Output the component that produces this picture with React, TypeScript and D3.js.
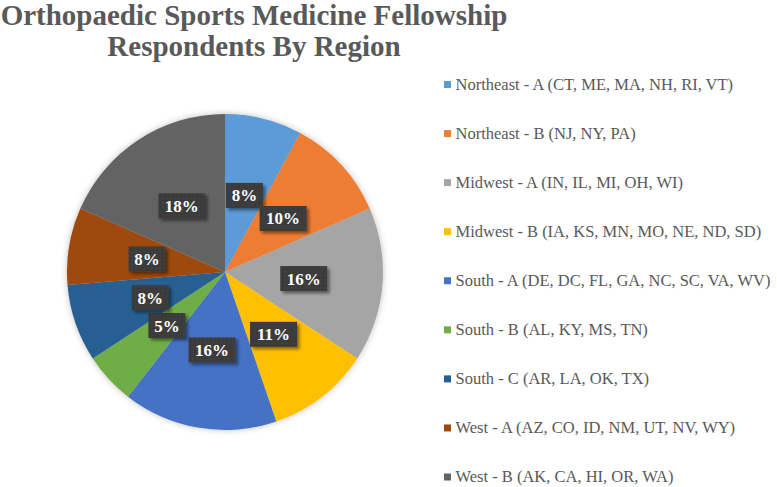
import React from 'react'
import * as d3 from 'd3'

// respondents per region (counts)
const regions = [
  'Northeast - A (CT, ME, MA, NH, RI, VT)',
  'Northeast - B (NJ, NY, PA)',
  'Midwest - A (IN, IL, MI, OH, WI)',
  'Midwest - B (IA, KS, MN, MO, NE, ND, SD)',
  'South - A (DE, DC, FL, GA, NC, SC, VA, WV)',
  'South - B (AL, KY, MS, TN)',
  'South - C (AR, LA, OK, TX)',
  'West - A (AZ, CO, ID, NM, UT, NV, WY)',
  'West - B (AK, CA, HI, OR, WA)',
]
const counts = [3, 4, 6, 4, 6, 2, 3, 3, 7]
const pctLabels = ['8%', '10%', '16%', '11%', '16%', '5%', '8%', '8%', '18%']
const colors = ['#5B9BD5', '#ED7D31', '#A5A5A5', '#FFC000', '#4472C4', '#70AD47', '#255E91', '#9E480E', '#636363']
const titleLines = ['Orthopaedic Sports Medicine Fellowship', 'Respondents By Region']

const W = 777
const H = 487
const cx = 225
const cy = 272
const R = 158
const serif = 'Liberation Serif, Times New Roman, serif'

export default function App() {
  const pie = d3.pie<number>().sort(null).value(d => d)
  const arcs = pie(counts)
  const arc = d3.arc<d3.PieArcDatum<number>>().innerRadius(0).outerRadius(R)

  const color = d3.scaleOrdinal<string, string>().domain(regions).range(colors)
  const legendY = d3.scalePoint<string>().domain(regions).range([84.5, 477])

  return (
    <svg width={W} height={H} style={{ position: 'absolute', left: 0, top: 0, background: '#fff' }}>
      <defs>
        <filter id="pieShadow" x="-20%" y="-20%" width="140%" height="140%">
          <feDropShadow dx="0" dy="0" stdDeviation="3" floodColor="#000" floodOpacity="0.25" />
        </filter>
        <filter id="boxShadow" x="-30%" y="-30%" width="160%" height="160%">
          <feDropShadow dx="2.5" dy="2.5" stdDeviation="1.5" floodColor="#000" floodOpacity="0.45" />
        </filter>
        <pattern id="dots" width="4" height="4" patternUnits="userSpaceOnUse">
          <rect width="4" height="4" fill="#3a3a3a" />
          <circle cx="1" cy="1" r="0.6" fill="#585858" />
        </pattern>
      </defs>

      <g style={{ fontFamily: serif }} fontWeight="bold" fontSize={29} fill="#595959" textAnchor="middle">
        {titleLines.map((t, i) => (
          <text key={i} x={254} y={25 + i * 31}>{t}</text>
        ))}
      </g>

      <g transform={`translate(${cx},${cy})`}>
        <g filter="url(#pieShadow)">
          {arcs.map((a, i) => (
            <path key={i} d={arc(a) || ''} fill={colors[i]} />
          ))}
        </g>
        {arcs.map((a, i) => {
          const [x, y] = arc.centroid(a)
          const label = pctLabels[i]
          const w = label.length === 2 ? 37 : 47
          const h = 25
          return (
            <g key={i} transform={`translate(${x},${y})`}>
              <rect x={-w / 2} y={-h / 2} width={w} height={h} fill="url(#dots)" filter="url(#boxShadow)" />
              <text
                y={6}
                textAnchor="middle"
                style={{ fontFamily: serif }}
                fontWeight="bold"
                fontSize={17}
                fill="#fff"
              >
                {label}
              </text>
            </g>
          )
        })}
      </g>

      <g style={{ fontFamily: serif }} fontSize={16.5} fill="#595959">
        {regions.map(r => (
          <g key={r} transform={`translate(444,${legendY(r)})`}>
            <rect x={0} y={-3.5} width={7} height={7} fill={color(r)} />
            <text x={11.5} y={5}>{r}</text>
          </g>
        ))}
      </g>
    </svg>
  )
}
